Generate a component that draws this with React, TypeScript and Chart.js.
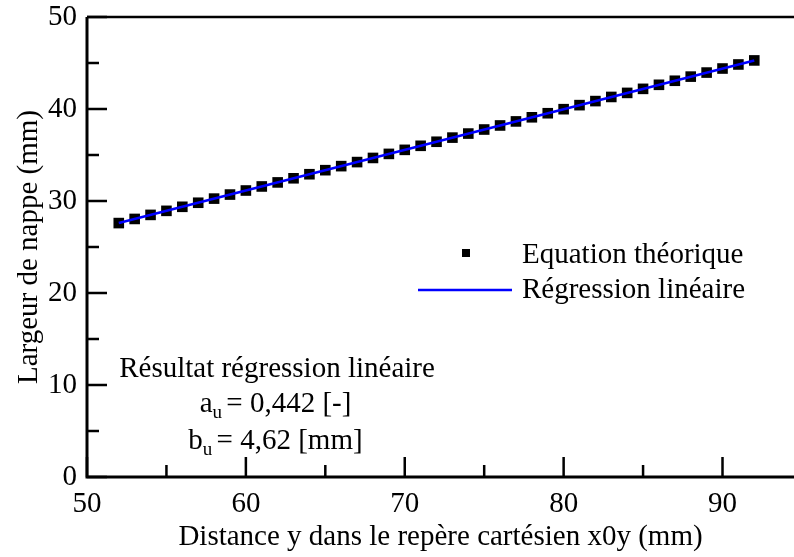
import React, { useEffect, useRef } from "react";
import { Chart, registerables } from "chart.js";

Chart.register(...registerables);

// ---- Data ----
const distanceY = [
  52, 53, 54, 55, 56, 57, 58, 59, 60, 61, 62, 63, 64, 65, 66, 67, 68, 69, 70, 71,
  72, 73, 74, 75, 76, 77, 78, 79, 80, 81, 82, 83, 84, 85, 86, 87, 88, 89, 90, 91, 92,
];
const largeurTheorique = [
  27.6, 28.05, 28.49, 28.93, 29.37, 29.81, 30.26, 30.7, 31.14, 31.58, 32.02, 32.47,
  32.91, 33.35, 33.79, 34.23, 34.68, 35.12, 35.56, 36.0, 36.44, 36.89, 37.33, 37.77,
  38.21, 38.65, 39.1, 39.54, 39.98, 40.42, 40.86, 41.31, 41.75, 42.19, 42.63, 43.07,
  43.52, 43.96, 44.4, 44.84, 45.28,
];
const regressionX = [52, 92];
const regressionY = [27.6, 45.28];

const xTickValues = [50, 60, 70, 80, 90];
const yTickValues = [0, 10, 20, 30, 40, 50];
const xMinorTicks = [55, 65, 75, 85];
const yMinorTicks = [5, 15, 25, 35, 45];

const xAxisTitle = "Distance y dans le repère cartésien x0y (mm)";
const yAxisTitle = "Largeur de nappe (mm)";
const legendLabels = ["Equation théorique", "Régression linéaire"];
const annotationTitle = "Résultat régression linéaire";
const coefLines = [
  { base: "a", sub: "u", rest: " = 0,442 [-]" },
  { base: "b", sub: "u", rest: " = 4,62 [mm]" },
];

const FONT = "'Liberation Serif', 'Times New Roman', serif";
const FS = 29;
const W = 794;
const H = 557;

const framePlugin = {
  id: "framePlugin",
  afterDraw(chart: any) {
    const { ctx, chartArea, scales } = chart;
    const { left, right, top, bottom } = chartArea;
    const x = scales.x;
    const y = scales.y;
    ctx.save();
    ctx.strokeStyle = "#000";
    ctx.lineCap = "butt";

    // axes frame
    ctx.lineWidth = 3;
    ctx.beginPath();
    ctx.moveTo(left, top);
    ctx.lineTo(left, bottom);
    ctx.lineTo(right, bottom);
    ctx.stroke();
    ctx.lineWidth = 2.5;
    ctx.beginPath();
    ctx.moveTo(left, top);
    ctx.lineTo(right, top);
    ctx.stroke();

    // inward ticks
    ctx.lineWidth = 2.5;
    ctx.beginPath();
    xTickValues.forEach((v) => {
      const px = x.getPixelForValue(v);
      ctx.moveTo(px, bottom);
      ctx.lineTo(px, bottom - 20);
    });
    xMinorTicks.forEach((v) => {
      const px = x.getPixelForValue(v);
      ctx.moveTo(px, bottom);
      ctx.lineTo(px, bottom - 12);
    });
    yTickValues.forEach((v) => {
      const py = y.getPixelForValue(v);
      ctx.moveTo(left, py);
      ctx.lineTo(left + 20, py);
    });
    yMinorTicks.forEach((v) => {
      const py = y.getPixelForValue(v);
      ctx.moveTo(left, py);
      ctx.lineTo(left + 12, py);
    });
    ctx.stroke();

    // legend
    ctx.fillStyle = "#000";
    ctx.fillRect(left + 375, top + 232, 8, 8);
    ctx.strokeStyle = "#0000ff";
    ctx.lineWidth = 2.5;
    ctx.beginPath();
    ctx.moveTo(left + 331, top + 273);
    ctx.lineTo(left + 425, top + 273);
    ctx.stroke();
    ctx.font = `${FS}px ${FONT}`;
    ctx.textBaseline = "alphabetic";
    ctx.textAlign = "left";
    ctx.fillText(legendLabels[0], left + 435, top + 246);
    ctx.fillText(legendLabels[1], left + 435, top + 281);

    // annotation
    const cx = left + 190;
    ctx.textAlign = "left";
    ctx.font = `${FS}px ${FONT}`;
    const wt = ctx.measureText(annotationTitle).width;
    ctx.fillText(annotationTitle, cx - wt / 2, top + 360);
    const baselines = [top + 395, top + 432];
    coefLines.forEach((l, i) => {
      ctx.font = `${FS}px ${FONT}`;
      const wb = ctx.measureText(l.base).width;
      const wr = ctx.measureText(l.rest).width;
      ctx.font = `19px ${FONT}`;
      const ws = ctx.measureText(l.sub).width;
      const x0 = cx - (wb + ws + wr) / 2;
      const bl = baselines[i];
      ctx.font = `${FS}px ${FONT}`;
      ctx.fillText(l.base, x0, bl);
      ctx.font = `19px ${FONT}`;
      ctx.fillText(l.sub, x0 + wb, bl + 6);
      ctx.font = `${FS}px ${FONT}`;
      ctx.fillText(l.rest, x0 + wb + ws - 3, bl);
    });
    ctx.restore();
  },
};

export default function App() {
  const ref = useRef<HTMLCanvasElement>(null);
  useEffect(() => {
    Chart.defaults.font.family = FONT;
    Chart.defaults.color = "#000";
    const chart = new Chart(ref.current as HTMLCanvasElement, {
      type: "scatter",
      data: {
        datasets: [
          {
            label: legendLabels[1],
            data: regressionX.map((v, i) => ({ x: v, y: regressionY[i] })),
            showLine: true,
            borderColor: "#0000ff",
            backgroundColor: "#0000ff",
            borderWidth: 2.5,
            pointRadius: 0,
            order: 0,
          },
          {
            label: legendLabels[0],
            data: distanceY.map((v, i) => ({ x: v, y: largeurTheorique[i] })),
            pointStyle: "rect",
            pointRadius: 7.5,
            pointBorderWidth: 0,
            backgroundColor: "#000",
            borderColor: "#000",
            order: 1,
          },
        ],
      },
      options: {
        animation: false,
        responsive: false,
        devicePixelRatio: 1,
        layout: { autoPadding: false, padding: { top: 17, right: 0, bottom: 0, left: 0 } },
        plugins: { legend: { display: false }, tooltip: { enabled: false } },
        scales: {
          x: {
            type: "linear",
            min: 50,
            max: 94.5,
            afterBuildTicks: (s: any) => {
              s.ticks = xTickValues.map((v) => ({ value: v }));
            },
            afterFit: (s: any) => {
              s.height = 80;
              s.paddingLeft = 0;
              s.paddingRight = 0;
            },
            grid: { display: false, drawTicks: false },
            border: { display: false },
            ticks: {
              padding: 10,
              maxRotation: 0,
              autoSkip: false,
              font: { size: FS, family: FONT },
              color: "#000",
              callback: (v: any) => String(v),
            },
            title: {
              display: true,
              text: xAxisTitle,
              font: { size: FS, family: FONT },
              color: "#000",
              padding: { top: 0, bottom: 2 },
            },
          },
          y: {
            type: "linear",
            min: 0,
            max: 50,
            afterBuildTicks: (s: any) => {
              s.ticks = yTickValues.map((v) => ({ value: v }));
            },
            afterFit: (s: any) => {
              s.width = 87;
              s.paddingTop = 0;
              s.paddingBottom = 0;
            },
            grid: { display: false, drawTicks: false },
            border: { display: false },
            ticks: {
              padding: 10,
              autoSkip: false,
              font: { size: FS, family: FONT },
              color: "#000",
              callback: (v: any) => String(v),
            },
            title: {
              display: true,
              text: yAxisTitle,
              font: { size: FS, family: FONT },
              color: "#000",
              padding: { top: 12, bottom: 0 },
            },
          },
        },
      },
      plugins: [framePlugin],
    });
    return () => chart.destroy();
  }, []);
  return (
    <div
      style={{
        position: "fixed",
        left: 0,
        top: 0,
        width: W,
        height: H,
        background: "#fff",
        overflow: "hidden",
      }}
    >
      <canvas ref={ref} width={W} height={H} style={{ display: "block", width: W, height: H }} />
    </div>
  );
}
